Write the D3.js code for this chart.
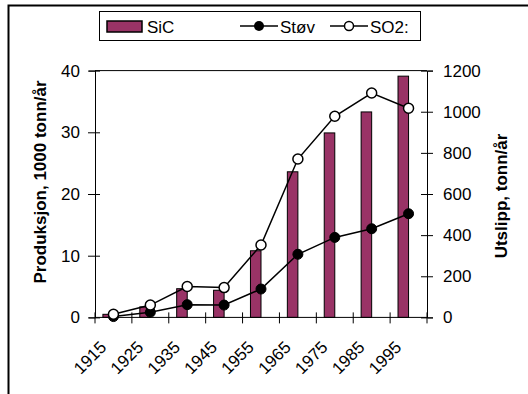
<!DOCTYPE html>
<html>
<head>
<meta charset="utf-8">
<script src="https://cdn.jsdelivr.net/npm/d3@7"></script>
<style>
  html, body { margin: 0; padding: 0; background: #fff; }
  svg { display: block; }
  text { font-family: Arial, "Liberation Sans", sans-serif; fill: #000; }
</style>
</head>
<body>
<svg id="chart" width="528" height="394"></svg>
<script>
// Categories (decades) and series
const years = ["1915", "1925", "1935", "1945", "1955", "1965", "1975", "1985", "1995"];
const sic = [0.5, 1.7, 4.65, 4.4, 10.8, 23.6, 29.9, 33.3, 39.1];      // 1000 tonn/år
const stov = [4, 25, 62, 60, 138, 307, 389, 431, 504];                 // tonn/år
const so2 = [15, 60, 150, 145, 352, 770, 978, 1091, 1017];             // tonn/år
const leftTicks = [0, 10, 20, 30, 40];
const rightTicks = [0, 200, 400, 600, 800, 1000, 1200];

const svg = d3.select("#chart");
const FONT = 17;
const plot = { left: 95, right: 427, top: 70.6, bottom: 317.4 };

const x = d3.scaleBand().domain(years).range([plot.left, plot.right]).padding(0);
const yL = d3.scaleLinear().domain([0, 40]).range([plot.bottom, plot.top]);
const yR = d3.scaleLinear().domain([0, 1200]).range([plot.bottom, plot.top]);
const bw = x.bandwidth();
const barW = bw / 3.5;
const cx = d => x(d) + bw / 2;

// Outer chart frame
svg.append("rect")
  .attr("x", 8.5).attr("y", 5.5).attr("width", 540).attr("height", 400)
  .attr("fill", "none").attr("stroke", "#000").attr("stroke-width", 2);

// Bars: SiC production
svg.append("g").selectAll("rect")
  .data(years.map((d, i) => ({ year: d, v: sic[i] })))
  .join("rect")
  .attr("x", d => cx(d.year) - barW)
  .attr("width", barW)
  .attr("y", d => yL(d.v))
  .attr("height", d => yL(0) - yL(d.v))
  .attr("fill", "#993366")
  .attr("stroke", "#000")
  .attr("stroke-width", 1);

// Plot frame (top edge)
svg.append("line")
  .attr("x1", plot.left).attr("x2", plot.right)
  .attr("y1", plot.top).attr("y2", plot.top)
  .attr("stroke", "#000").attr("stroke-width", 1);

// Left axis
const gL = svg.append("g").attr("transform", `translate(${plot.left},0)`)
  .call(d3.axisLeft(yL).tickValues(leftTicks).tickSize(6).tickPadding(9).tickFormat(d3.format("d")));
gL.select(".domain").attr("stroke", "#000");
gL.selectAll(".tick line").attr("x1", 5).attr("x2", -7).attr("stroke", "#000");
gL.selectAll(".tick text").attr("font-size", FONT).attr("font-family", "Arial, 'Liberation Sans', sans-serif");

// Right axis
const gR = svg.append("g").attr("transform", `translate(${plot.right},0)`)
  .call(d3.axisRight(yR).tickValues(rightTicks).tickSize(6).tickPadding(10).tickFormat(d3.format("d")));
gR.select(".domain").attr("stroke", "#000");
gR.selectAll(".tick line").attr("x1", -6).attr("x2", 6).attr("stroke", "#000");
gR.selectAll(".tick text").attr("font-size", FONT).attr("font-family", "Arial, 'Liberation Sans', sans-serif");

// Bottom axis: line, boundary ticks and rotated labels
const gB = svg.append("g").attr("transform", `translate(0,${plot.bottom})`);
gB.append("line").attr("x1", plot.left).attr("x2", plot.right)
  .attr("stroke", "#000").attr("stroke-width", 1);
const bounds = years.map(d => x(d)).concat([x(years[years.length - 1]) + bw]);
gB.selectAll("line.tk").data(bounds).join("line").attr("class", "tk")
  .attr("x1", d => d).attr("x2", d => d).attr("y1", -5).attr("y2", 6)
  .attr("stroke", "#000");
gB.selectAll("text").data(years).join("text")
  .attr("transform", d => `translate(${cx(d) - 6},31) rotate(-45)`)
  .attr("text-anchor", "end")
  .attr("font-size", FONT)
  .text(d => d);

// Lines
const lineL = d3.line().x((d, i) => cx(years[i])).y(d => yR(d));

svg.append("path").datum(stov).attr("d", lineL)
  .attr("fill", "none").attr("stroke", "#000").attr("stroke-width", 1.5);
svg.append("g").selectAll("circle").data(stov).join("circle")
  .attr("cx", (d, i) => cx(years[i])).attr("cy", d => yR(d)).attr("r", 5)
  .attr("fill", "#000").attr("stroke", "#000");

svg.append("path").datum(so2).attr("d", lineL)
  .attr("fill", "none").attr("stroke", "#000").attr("stroke-width", 1.5);
svg.append("g").selectAll("circle").data(so2).join("circle")
  .attr("cx", (d, i) => cx(years[i])).attr("cy", d => yR(d)).attr("r", 5)
  .attr("fill", "#fff").attr("stroke", "#000").attr("stroke-width", 1.5);

// Axis titles
svg.append("text")
  .attr("transform", `translate(46,${(plot.top + plot.bottom) / 2 - 12}) rotate(-90)`)
  .attr("text-anchor", "middle").attr("font-size", FONT).attr("font-weight", "bold")
  .text("Produksjon, 1000 tonn/år");
svg.append("text")
  .attr("transform", `translate(507,${(plot.top + plot.bottom) / 2 + 2}) rotate(-90)`)
  .attr("text-anchor", "middle").attr("font-size", FONT).attr("font-weight", "bold")
  .text("Utslipp, tonn/år");

// Legend
const lg = svg.append("g");
lg.append("rect").attr("x", 99.5).attr("y", 11.5).attr("width", 321).attr("height", 29)
  .attr("fill", "#fff").attr("stroke", "#000").attr("stroke-width", 1);
const ly = 26;
lg.append("rect").attr("x", 107).attr("y", 21).attr("width", 35).attr("height", 11)
  .attr("fill", "#993366").attr("stroke", "#000").attr("stroke-width", 1.5);
lg.append("text").attr("x", 147).attr("y", ly + 6.5).attr("font-size", FONT).text("SiC");

lg.append("line").attr("x1", 240).attr("x2", 278).attr("y1", ly).attr("y2", ly)
  .attr("stroke", "#000").attr("stroke-width", 1.5);
lg.append("circle").attr("cx", 259).attr("cy", ly).attr("r", 5).attr("fill", "#000");
lg.append("text").attr("x", 280).attr("y", ly + 6.5).attr("font-size", FONT).text("Støv");

lg.append("line").attr("x1", 330).attr("x2", 368).attr("y1", ly).attr("y2", ly)
  .attr("stroke", "#000").attr("stroke-width", 1.5);
lg.append("circle").attr("cx", 349).attr("cy", ly).attr("r", 4.5)
  .attr("fill", "#fff").attr("stroke", "#000").attr("stroke-width", 1.5);
lg.append("text").attr("x", 370).attr("y", ly + 6.5).attr("font-size", FONT).text("SO2:");
</script>
</body>
</html>
